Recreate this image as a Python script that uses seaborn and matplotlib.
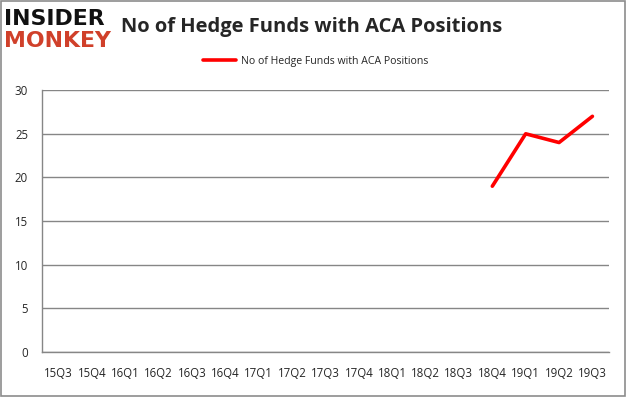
import matplotlib
matplotlib.use("Agg")
import matplotlib.pyplot as plt
import numpy as np
import pandas as pd
import seaborn as sns

# data
quarters = ['15Q3', '15Q4', '16Q1', '16Q2', '16Q3', '16Q4', '17Q1', '17Q2', '17Q3',
            '17Q4', '18Q1', '18Q2', '18Q3', '18Q4', '19Q1', '19Q2', '19Q3']
funds = [np.nan] * 13 + [19, 25, 24, 27]
series_name = 'No of Hedge Funds with ACA Positions'

df = pd.DataFrame({'pos': np.arange(len(quarters)), 'funds': funds})

sns.set_style('white')
plt.rcParams['font.family'] = ['Open Sans', 'DejaVu Sans']

fig = plt.figure(figsize=(6.26, 3.97), dpi=100)
ax = fig.add_axes([0.067, 0.113, 0.906, 0.660])

grid_col = '#868686'
sns.lineplot(data=df, x='pos', y='funds', color='#ff0000', linewidth=2.6,
             label=series_name, ax=ax, solid_capstyle='round')

ax.set_xlim(-0.5, len(quarters) - 0.5)
ax.set_ylim(0, 30)
ax.set_yticks(range(0, 31, 5))
ax.yaxis.grid(True, color=grid_col, linewidth=1)
ax.set_axisbelow(True)

# tick marks at category boundaries, labels at centers
ax.set_xticks(np.arange(-0.5, len(quarters), 1))
ax.set_xticklabels([])
ax.set_xticks(np.arange(len(quarters)), minor=True)
ax.set_xticklabels(quarters, minor=True)
ax.tick_params(axis='x', which='major', length=4, color=grid_col, direction='out')
ax.tick_params(axis='x', which='minor', length=0, pad=11, labelsize=8.3)
ax.tick_params(axis='y', length=4, color=grid_col, direction='out', labelsize=8.3, pad=6)
ax.set_xlabel('')
ax.set_ylabel('')

for s in ['top', 'right']:
    ax.spines[s].set_visible(False)
for s in ['left', 'bottom']:
    ax.spines[s].set_color(grid_col)
    ax.spines[s].set_linewidth(1)

leg = ax.legend(loc='center', bbox_to_anchor=(0.482, 1.11), frameon=False,
                fontsize=7.6, handlelength=3.2, handletextpad=0.4, borderaxespad=0)

# title and logo
fig.text(0.194, 0.933, series_name, fontsize=14.5, fontweight='bold', va='center', ha='left')
fig.text(0.007, 0.952, 'INSIDER', fontsize=15.8, fontweight='heavy', color='#111111',
         va='center', ha='left', family='DejaVu Sans')
fig.text(0.007, 0.897, 'MONKEY', fontsize=15.8, fontweight='heavy', color='#d0402a',
         va='center', ha='left', family='DejaVu Sans')

# grey frame around the picture
fig.patches.append(plt.Rectangle((0.001, 0.002), 0.997, 0.996, transform=fig.transFigure,
                                 fill=False, edgecolor='#8c8c8c', linewidth=1.2))

fig.savefig('out.png', dpi=100)
